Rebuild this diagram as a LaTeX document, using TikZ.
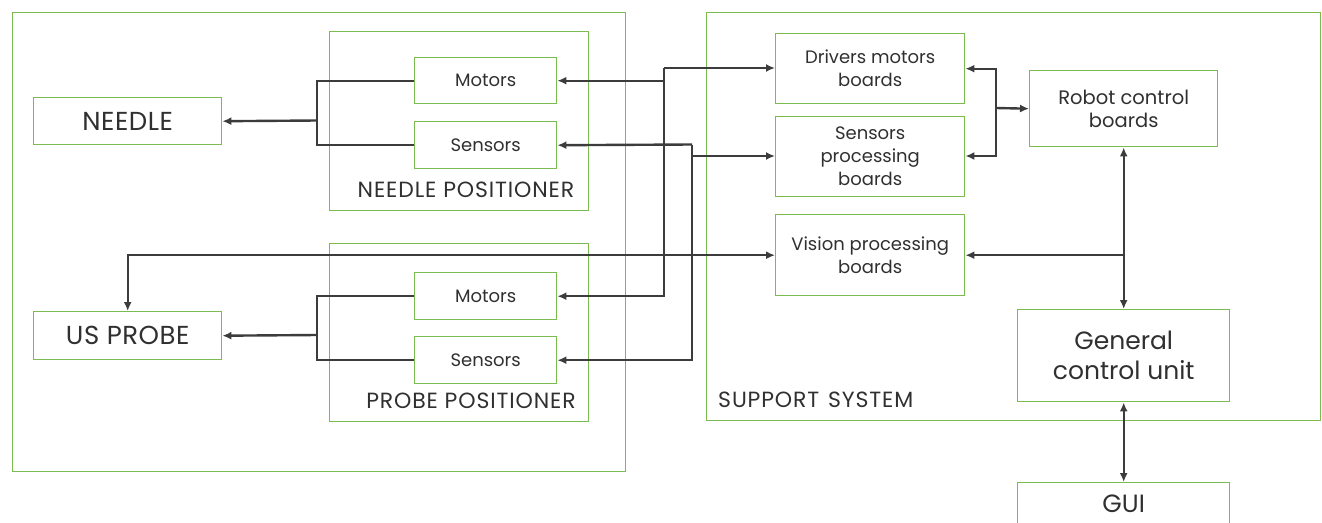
\documentclass[tikz,border=0pt]{standalone}
\usepackage{fontspec}
\setmainfont{Poppins}
\usetikzlibrary{arrows.meta}
\definecolor{boxgreen}{HTML}{7CBB4F}
\definecolor{wiregray}{HTML}{3C3C3C}
\definecolor{textgray}{HTML}{303030}
\tikzset{
  x=1pt, y=-1pt,
  box/.style={draw=boxgreen, line width=1.4pt, rectangle, inner sep=0pt,
    anchor=north west, align=center, text=textgray},
  group/.style={draw=boxgreen, line width=1.4pt, rectangle, inner sep=0pt, anchor=north west},
  smalltext/.style={font=\fontsize{18}{23}\selectfont},
  robottext/.style={font=\fontsize{19.5}{23}\selectfont},
  bigtext/.style={font=\fontsize{26}{28}\selectfont\addfontfeature{LetterSpace=2}},
  hugetext/.style={font=\fontsize{25}{30}\selectfont},
  label/.style={text=textgray, inner sep=0pt,
    font=\fontsize{22}{26}\selectfont\addfontfeature{LetterSpace=4}},
  wire/.style={draw=wiregray, line width=2.4pt},
  arr/.style={wire, -{Latex[length=9pt,width=8pt]}},
  darr/.style={wire, {Latex[length=9pt,width=8pt]}-{Latex[length=9pt,width=8pt]}},
}
\begin{document}
\begin{tikzpicture}
\useasboundingbox (0,0) rectangle (1322,522);
\clip (0,0) rectangle (1322,522);

% outer groups
\node[group, minimum width=613pt, minimum height=459pt] (robot) at (12,12) {};
\node[group, minimum width=614pt, minimum height=408pt] (support) at (706,12) {};
\node[group, minimum width=259pt, minimum height=179pt] (npos) at (329,31) {};
\node[group, minimum width=259pt, minimum height=178pt] (ppos) at (329,243) {};

% group captions
\node[label, anchor=center] (nposlbl) at (466,190) {NEEDLE POSITIONER};
\node[label, anchor=center] (pposlbl) at (471,401) {PROBE POSITIONER};
\node[label, anchor=west] (suplbl) at (718,400) {SUPPORT\hspace{0.4em}SYSTEM};

% end effectors
\node[box, bigtext, minimum width=188pt, minimum height=47pt] (needle) at (33,97) {NEEDLE};
\node[box, bigtext, minimum width=188pt, minimum height=48pt] (usp) at (33,311) {US PROBE};

% positioner components
\node[box, smalltext, minimum width=142pt, minimum height=46pt] (nmot) at (414,57) {Motors};
\node[box, smalltext, minimum width=142pt, minimum height=47pt] (nsen) at (414,121) {Sensors};
\node[box, smalltext, minimum width=142pt, minimum height=47pt] (pmot) at (414,272) {Motors};
\node[box, smalltext, minimum width=142pt, minimum height=47pt] (psen) at (414,336) {Sensors};

% support system boards
\node[box, smalltext, minimum width=189pt, minimum height=70pt] (drv) at (775,33) {Drivers motors\\boards};
\node[box, smalltext, minimum width=189pt, minimum height=80pt] (sproc) at (775,116) {Sensors\\processing\\boards};
\node[box, smalltext, minimum width=189pt, minimum height=81pt] (vis) at (775,214) {Vision processing\\boards};
\node[box, robottext, minimum width=188pt, minimum height=76pt] (rob) at (1029,70) {Robot control\\boards};
\node[box, hugetext, minimum width=212pt, minimum height=92pt] (gcu) at (1017,309) {General\\control unit};
\node[box, hugetext, minimum width=212pt, minimum height=42pt] (gui) at (1017,482) {GUI};

% junction points
\coordinate (nbus) at (317,120.5);
\coordinate (pbus) at (317,335);
\coordinate (mbus) at (664,68);
\coordinate (sbus) at (692,144.5);
\coordinate (rbus) at (996,108);

% positioners to end effectors
\draw[wire] (nmot.west) -| (nbus) |- (nsen.west);
\draw[arr] (nbus) -- (needle.east);
\draw[wire] (pmot.west) -| (pbus) |- (psen.west);
\draw[arr] (pbus) -- (usp.east);

% motor drivers bus
\draw[arr] (mbus) -- (mbus -| drv.west);
\draw[arr] (mbus) |- (pmot.east);
\draw[arr] (mbus |- nmot.east) -- (nmot.east);

% sensor processing bus
\draw[arr] (sbus) -- (nsen.east);
\draw[arr] (sbus) |- (psen.east);
\draw[arr] (sbus |- 0,156) -- (sproc.west |- 0,156);

% vision link to the probe
\draw[darr] (usp.north) |- (vis.west);

% robot control links
\draw[arr] (rbus) -- (rob.west);
\draw[arr] (rbus) |- (drv.east);
\draw[arr] (rbus) |- (sproc.east |- 0,156);
\draw[darr] (rob.south) -- (gcu.north);
\draw[arr] (rob.south |- vis.east) -- (vis.east);
\draw[darr] (gcu.south) -- (gui.north);
\end{tikzpicture}
\end{document}
